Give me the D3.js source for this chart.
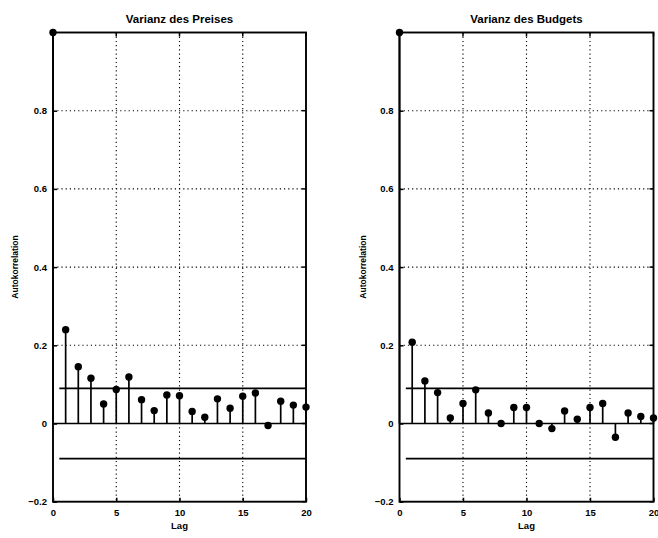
<!DOCTYPE html>
<html><head><meta charset="utf-8">
<script src="https://cdn.jsdelivr.net/npm/d3@7"></script>
<style>body{margin:0;background:#fff;} svg{display:block;}</style>
</head><body>
<svg id="c" width="658" height="538"></svg>
<script>
const lags = d3.range(0, 21);
const titles = ["Varianz des Preises", "Varianz des Budgets"];
const acfPreis = [1, 0.24, 0.145, 0.116, 0.050, 0.087, 0.119, 0.061, 0.033, 0.073, 0.071, 0.031, 0.016, 0.063, 0.039, 0.070, 0.078, -0.005, 0.057, 0.047, 0.042];
const acfBudget = [1, 0.208, 0.109, 0.079, 0.014, 0.051, 0.086, 0.027, 0.000, 0.041, 0.041, 0.000, -0.013, 0.032, 0.011, 0.041, 0.051, -0.035, 0.027, 0.018, 0.014];
const confBound = 0.09;
const xTicks = [0, 5, 10, 15, 20];
const yTicks = [-0.2, 0, 0.2, 0.4, 0.6, 0.8];
const xLabel = "Lag";
const yLabel = "Autokorrelation";

const svg = d3.select("#c");
const font = "'Liberation Sans', Arial, sans-serif";
const panels = [
  {title: titles[0], data: acfPreis, x0: 53, x1: 306, labX: 15},
  {title: titles[1], data: acfBudget, x0: 399.5, x1: 653.5, labX: 363}
];
const plotTop = 32.5, plotBottom = 501.7;

panels.forEach(p => {
  const x = d3.scaleLinear().domain([0, 20]).range([p.x0, p.x1]);
  const y = d3.scaleLinear().domain([-0.2, 1]).range([plotBottom, plotTop]);
  const g = svg.append("g");

  // grid
  g.selectAll(".gx").data([5, 10, 15]).enter().append("line")
    .attr("x1", d => x(d)).attr("x2", d => x(d)).attr("y1", plotTop).attr("y2", plotBottom)
    .attr("stroke", "#000").attr("stroke-width", 1.1).attr("stroke-dasharray", "1.2,3");
  g.selectAll(".gy").data([0.2, 0.4, 0.6, 0.8]).enter().append("line")
    .attr("x1", p.x0).attr("x2", p.x1).attr("y1", d => y(d)).attr("y2", d => y(d))
    .attr("stroke", "#000").attr("stroke-width", 1.1).attr("stroke-dasharray", "1.2,3");

  // axes
  const xAxis = d3.axisBottom(x).tickValues(xTicks).tickFormat(d3.format("d")).tickSizeInner(-4).tickSizeOuter(0).tickPadding(8);
  const yAxis = d3.axisLeft(y).tickValues(yTicks).tickFormat(d => d === 0 ? "0" : d3.format(".1f")(d)).tickSizeInner(-4).tickSizeOuter(0).tickPadding(6);
  const ax = g.append("g").attr("transform", `translate(0,${plotBottom})`).call(xAxis);
  const ay = g.append("g").attr("transform", `translate(${p.x0},0)`).call(yAxis);
  [ax, ay].forEach(a => {
    a.select(".domain").remove();
    a.selectAll("line").attr("stroke", "#000").attr("stroke-width", 1.5);
    a.selectAll("text").attr("font-family", font).attr("font-weight", "bold").attr("font-size", 9.5).attr("fill", "#000");
  });
  // top/right ticks
  g.selectAll(".tt").data(xTicks).enter().append("line")
    .attr("x1", d => x(d)).attr("x2", d => x(d)).attr("y1", plotTop).attr("y2", plotTop + 4)
    .attr("stroke", "#000").attr("stroke-width", 1.5);
  g.selectAll(".rt").data(yTicks).enter().append("line")
    .attr("x1", p.x1).attr("x2", p.x1 - 4).attr("y1", d => y(d)).attr("y2", d => y(d))
    .attr("stroke", "#000").attr("stroke-width", 1.5);

  // frame
  g.append("rect").attr("x", p.x0).attr("y", plotTop).attr("width", p.x1 - p.x0).attr("height", plotBottom - plotTop)
    .attr("fill", "none").attr("stroke", "#000").attr("stroke-width", 1.9);

  // zero line
  g.append("line").attr("x1", x(0)).attr("x2", x(20)).attr("y1", y(0)).attr("y2", y(0))
    .attr("stroke", "#000").attr("stroke-width", 1.6);
  // confidence bounds
  [confBound, -confBound].forEach(c => {
    g.append("line").attr("x1", x(0.5)).attr("x2", x(20)).attr("y1", y(c)).attr("y2", y(c))
      .attr("stroke", "#000").attr("stroke-width", 1.7);
  });

  // stems
  g.selectAll(".stem").data(lags).enter().append("line")
    .attr("x1", d => x(d)).attr("x2", d => x(d))
    .attr("y1", y(0)).attr("y2", d => y(p.data[d]))
    .attr("stroke", "#000").attr("stroke-width", 1.7);
  g.selectAll(".dot").data(lags).enter().append("circle")
    .attr("cx", d => x(d)).attr("cy", d => y(p.data[d])).attr("r", 3.7).attr("fill", "#000");

  // title & labels
  g.append("text").attr("x", (p.x0 + p.x1) / 2).attr("y", 23).attr("text-anchor", "middle")
    .attr("font-family", font).attr("font-weight", "bold").attr("font-size", 11.5).text(p.title);
  g.append("text").attr("x", (p.x0 + p.x1) / 2).attr("y", 529).attr("text-anchor", "middle")
    .attr("font-family", font).attr("font-weight", "bold").attr("font-size", 9.5).text(xLabel);
  g.append("text").attr("transform", `translate(${p.labX + 3},267) rotate(-90)`).attr("text-anchor", "middle")
    .attr("font-family", font).attr("font-weight", "bold").attr("font-size", 8.5).text(yLabel);
});
</script>
</body></html>
